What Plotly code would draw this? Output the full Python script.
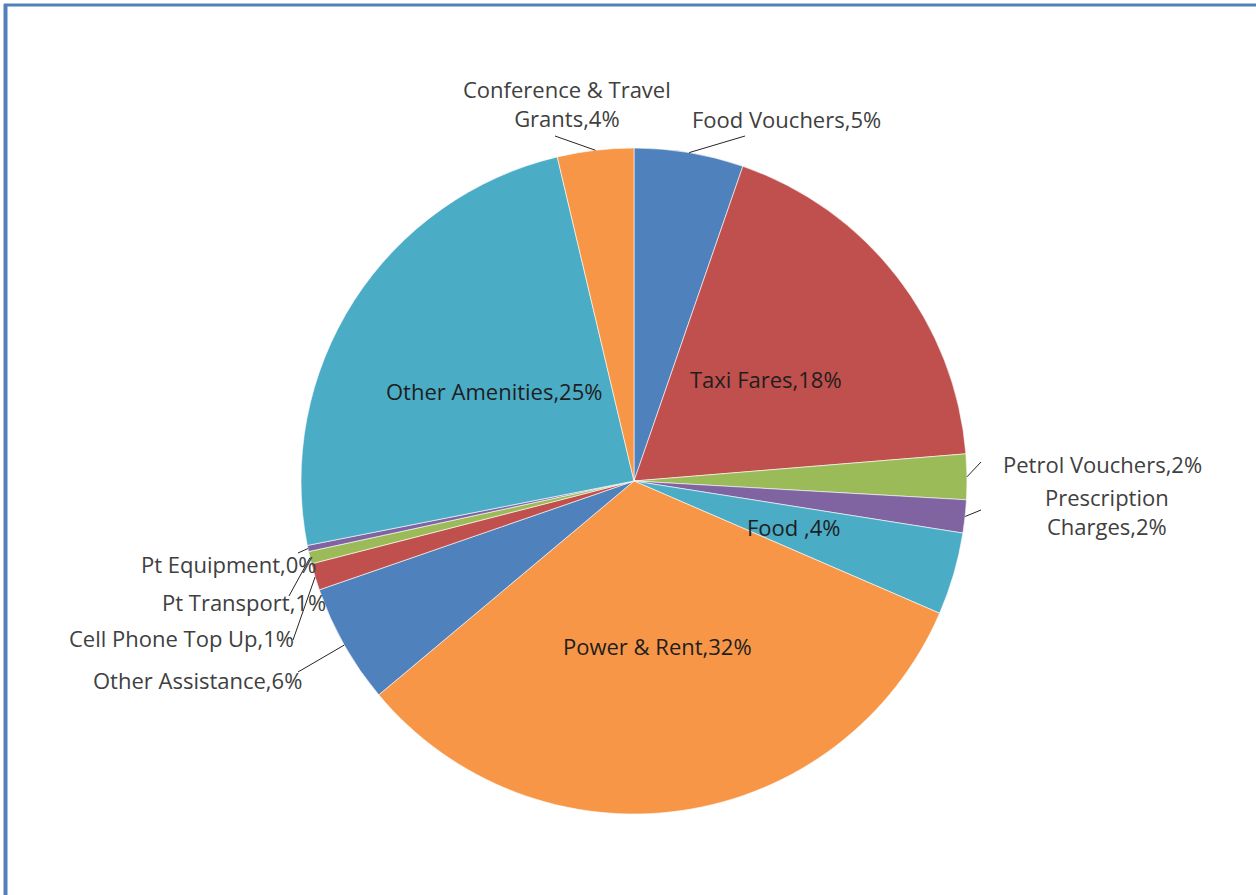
import math
import plotly.graph_objects as go

# ---- data ----
labels = ["Food Vouchers", "Taxi Fares", "Petrol Vouchers", "Prescription Charges",
          "Food ", "Power & Rent", "Other Assistance", "Cell Phone Top Up",
          "Pt Transport", "Pt Equipment", "Other Amenities", "Conference & Travel Grants"]
values = [5.3, 18.4, 2.2, 1.6, 4.0, 32.4, 5.8, 1.3, 0.6, 0.3, 24.4, 3.7]
display_text = ["Food Vouchers,5%", "Taxi Fares,18%", "Petrol Vouchers,2%",
                "Prescription<br>Charges,2%", "Food ,4%", "Power & Rent,32%",
                "Other Assistance,6%", "Cell Phone Top Up,1%", "Pt Transport,1%",
                "Pt Equipment,0%", "Other Amenities,25%", "Conference & Travel<br>Grants,4%"]
colors = ["#4F81BD", "#C0504D", "#9BBB59", "#8064A2", "#4BACC6", "#F79646",
          "#4F81BD", "#C0504D", "#9BBB59", "#8064A2", "#4BACC6", "#F79646"]

W, H = 1256, 895
CX, CY, R = 634, 481, 333  # pie centre / radius in pixels (layout)

# label layout: inside labels placed at half radius; outside ones with leader lines
inside = {"Taxi Fares", "Food ", "Power & Rent", "Other Amenities"}
# outside: (text x, text y, xanchor, leader tail x, leader tail y)
outside = {
    "Food Vouchers": (690, 119, "left", 745, 136),
    "Petrol Vouchers": (1001, 464, "left", 981, 462),
    "Prescription Charges": (1107, 512, "center", 981, 510),
    "Other Assistance": (304, 680, "right", 298, 672),
    "Cell Phone Top Up": (296, 638, "right", 293, 640),
    "Pt Transport": (328, 602, "right", 289, 596),
    "Pt Equipment": (319, 564, "right", 298, 553),
    "Conference & Travel Grants": (567, 103, "center", 555, 136),
}

fig = go.Figure(go.Pie(
    labels=labels, values=values, sort=False, direction="clockwise", rotation=0,
    marker=dict(colors=colors, line=dict(color="white", width=0.6)),
    textinfo="none", hoverinfo="label+percent", showlegend=False,
    domain=dict(x=[(CX - R) / W, (CX + R) / W], y=[1 - (CY + R) / H, 1 - (CY - R) / H]),
))

def px2paper(x, y):
    return x / W, 1 - y / H

total = sum(values)
cum = 0.0
annotations = []
shapes = []
font_family = "Open Sans"
FS = 22
for lab, v, txt in zip(labels, values, display_text):
    mid = math.radians(360 * (cum + v / 2) / total)
    cum += v
    if lab in inside:
        px = CX + 0.5 * R * math.sin(mid)
        py = CY - 0.5 * R * math.cos(mid)
        x, y = px2paper(px, py)
        annotations.append(dict(x=x, y=y, xref="paper", yref="paper", text=txt,
                                showarrow=False, xanchor="center", yanchor="middle",
                                font=dict(family=font_family, size=FS, color="#1e1e1e")))
    else:
        tx, ty, anchor, lx, ly = outside[lab]
        x, y = px2paper(tx, ty)
        annotations.append(dict(x=x, y=y, xref="paper", yref="paper", text=txt,
                                showarrow=False, xanchor=anchor, yanchor="middle",
                                align="center",
                                font=dict(family=font_family, size=FS, color="#404040")))
        hx = CX + R * math.sin(mid)
        hy = CY - R * math.cos(mid)
        x0, y0 = px2paper(hx, hy)
        x1, y1 = px2paper(lx, ly)
        shapes.append(dict(type="line", xref="paper", yref="paper", x0=x0, y0=y0,
                           x1=x1, y1=y1, line=dict(color="#262626", width=1)))

# chart frame (blue border on left and top)
shapes.append(dict(type="line", xref="paper", yref="paper", x0=5.5 / W, x1=5.5 / W,
                   y0=0, y1=1 - 4 / H, line=dict(color="#4F81BD", width=4)))
shapes.append(dict(type="line", xref="paper", yref="paper", x0=4 / W, x1=1,
                   y0=1 - 5 / H, y1=1 - 5 / H, line=dict(color="#4F81BD", width=3)))

fig.update_layout(
    width=W, height=H, margin=dict(l=0, r=0, t=0, b=0),
    paper_bgcolor="white", plot_bgcolor="white",
    annotations=annotations, shapes=shapes,
)

fig.write_html("out.html", config={"displayModeBar": False},
               post_script="document.body.style.margin='0';")
